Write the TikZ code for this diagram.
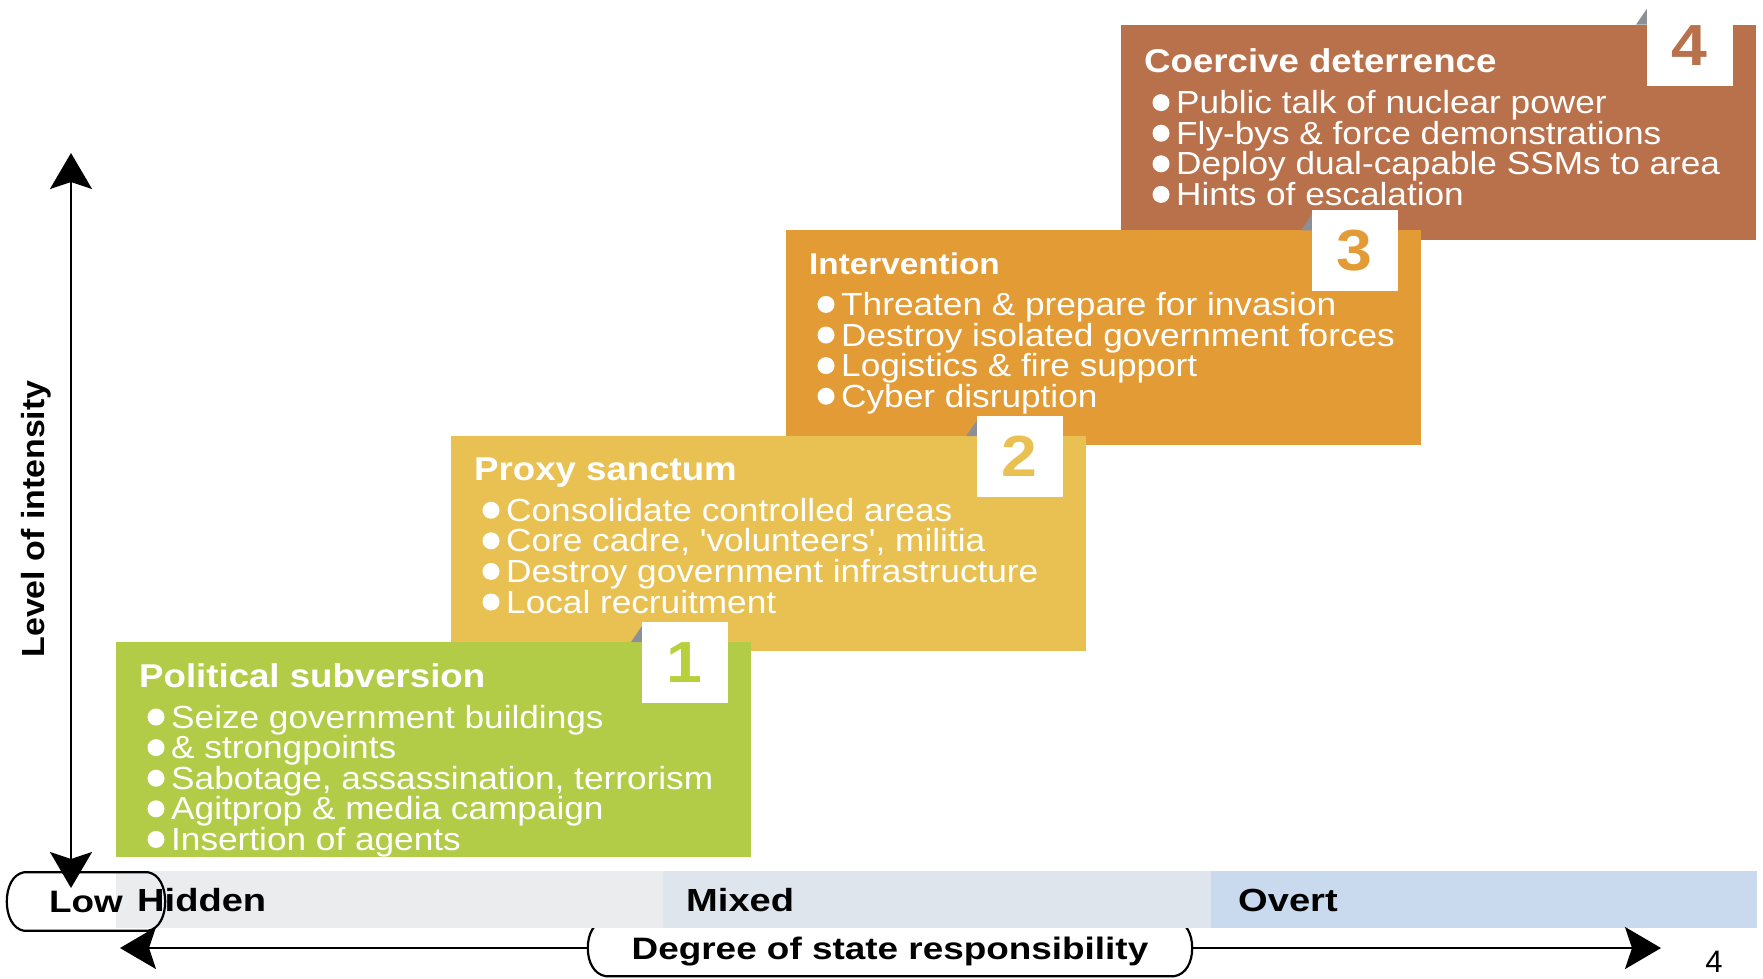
\documentclass[tikz,border=0pt]{standalone}
\usepackage{fontspec}
\setmainfont{Liberation Sans}
\newfontfamily\bodyf[FakeStretch=1.1]{Liberation Sans}
\newfontfamily\titlef[FakeStretch=1.11]{Liberation Sans}
\newfontfamily\bandf[FakeStretch=1.19]{Liberation Sans}
\newfontfamily\levelf[FakeStretch=1.06]{Liberation Sans}
\usetikzlibrary{arrows.meta,calc}
\definecolor{cgreen}{RGB}{178,204,72}
\definecolor{cyellow}{RGB}{233,193,83}
\definecolor{corange}{RGB}{227,155,53}
\definecolor{cbrown}{RGB}{185,113,75}
\definecolor{ngreen}{RGB}{184,208,60}
\definecolor{foldgray}{RGB}{140,144,150}
\definecolor{bhid}{RGB}{235,236,238}
\definecolor{bmix}{RGB}{222,229,236}
\definecolor{bovt}{RGB}{201,217,238}
\tikzset{
  stagetitle/.style={anchor=base west, text=white, inner sep=0pt, font=\titlef\bfseries\fontsize{33}{33}\selectfont},
  stageitem/.style={anchor=base west, text=white, inner sep=0pt, font=\bodyf\fontsize{32}{32}\selectfont},
  stagenum/.style={fill=white, minimum width=85.5pt, minimum height=81pt, inner sep=0pt, font=\titlef\bfseries\fontsize{58}{58}\selectfont},
  bandtext/.style={anchor=base west, inner sep=0pt, font=\bandf\bfseries\fontsize{32}{32}\selectfont},
  axisline/.style={line width=2.2pt, black},
  boxline/.style={line width=2.2pt, black, line join=round},
  bigtip/.tip={Stealth[length=36pt, width=42pt, inset=7pt]}
}
% #1 left, #2 top, #3 colour, #4 number, #5 title, #6 items, #7 number colour, #8 text offset
\newcommand\stagebox[8]{%
  \fill[#3] (#1,#2) rectangle ++(635,215);
  \fill[foldgray] (#1+515,#2) -- (#1+526,#2-16) -- (#1+526,#2) -- cycle;
  \node[stagenum, text=#7] (num#4) at (#1+568.75,#2+20.5) {#4};
  \node[stagetitle] (title#4) at (#1+23,#2+44+#8) {#5};
  \foreach \t [count=\k from 0] in {#6} {
    \fill[white] (#1+40,#2+74+#8+30.6*\k) circle (8.5pt);
    \node[stageitem] (item#4-\k) at (#1+55,#2+85+#8+30.6*\k) {\t};
  }
}
\newcommand\capsule[2]{%
  \draw[boxline] ($(#1.north west)+(#2,0)$) -- ($(#1.north east)+(-#2,0)$)
    .. controls ($(#1.north east)+(-#2/3,2)$) and ($(#1.east)+(0,-14)$) .. (#1.east)
    .. controls ($(#1.east)+(0,14)$) and ($(#1.south east)+(-#2/3,-2)$) .. ($(#1.south east)+(-#2,0)$)
    -- ($(#1.south west)+(#2,0)$)
    .. controls ($(#1.south west)+(#2/3,-2)$) and ($(#1.west)+(0,14)$) .. (#1.west)
    .. controls ($(#1.west)+(0,-14)$) and ($(#1.north west)+(#2/3,2)$) .. cycle;
}
\begin{document}
\begin{tikzpicture}[x=1pt,y=-1pt]
\useasboundingbox (0,0) rectangle (1763,978);
% stages, top one first
\stagebox{1121}{24.6}{cbrown}{4}{Coercive deterrence}{Public talk of nuclear power,Fly-bys \& force demonstrations,Deploy dual-capable SSMs to area,Hints of escalation}{cbrown}{4}
\stagebox{786}{230.4}{corange}{3}{{\fontsize{30}{30}\selectfont Intervention}}{Threaten \& prepare for invasion,Destroy isolated government forces,Logistics \& fire support,Cyber disruption}{corange}{0}
\stagebox{451}{436.2}{cyellow}{2}{Proxy sanctum}{Consolidate controlled areas,{Core cadre, 'volunteers', militia},Destroy government infrastructure,Local recruitment}{cyellow}{0}
\stagebox{116}{642}{cgreen}{1}{Political subversion}{Seize government buildings,\& strongpoints,{Sabotage, assassination, terrorism},Agitprop \& media campaign,Insertion of agents}{ngreen}{1}
% degree box (under the band)
\node[minimum width=604pt, minimum height=56pt, inner sep=0pt] (deg) at (890,948) {};
\fill[white] (deg.north west) rectangle (deg.south east);
\capsule{deg}{18}
\node[inner sep=0pt, font=\bandf\bfseries\fontsize{31}{31}\selectfont] (degtext) at ($(deg.center)+(0,4)$) {Degree of state responsibility};
% band
\fill[bhid] (116,871) rectangle (663,928);
\fill[bmix] (663,871) rectangle (1211,928);
\fill[bovt] (1211,871) rectangle (1757,928);
\node[bandtext] (hid) at (137,911) {Hidden};
\node[bandtext] (mix) at (686,911) {Mixed};
\node[bandtext] (ovt) at (1238,911) {Overt};
% low box
\node[minimum width=158pt, minimum height=58pt, inner sep=0pt, font=\bandf\bfseries\fontsize{31}{31}\selectfont] (low) at (86,901.5) {Low};
\capsule{low}{17}
% axes
\coordinate (hl) at (120,948);
\coordinate (hr) at (1661,948);
\draw[axisline,-bigtip] (deg.west) -- (hl);
\draw[axisline,-bigtip] (deg.east) -- (hr);
\coordinate (vt) at (71,153);
\coordinate (vb) at (71,888);
\draw[axisline,bigtip-bigtip] (vb) -- (vt);
\node[rotate=90, inner sep=0pt, font=\levelf\bfseries\fontsize{32}{32}\selectfont] (lev) at (36,519) {Level of intensity};
\node[anchor=base, inner sep=0pt, font=\fontsize{31}{31}\selectfont] (pg) at (1714,972) {4};
\end{tikzpicture}
\end{document}
